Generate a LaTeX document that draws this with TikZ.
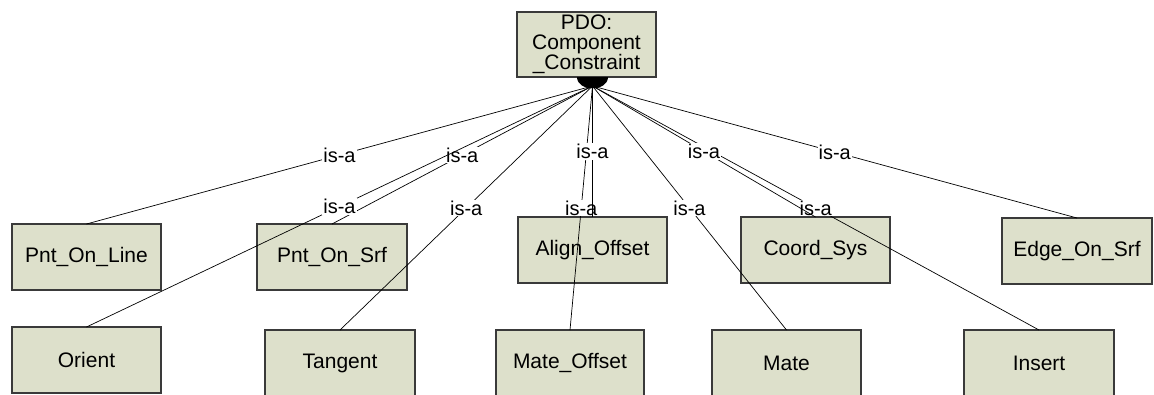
\documentclass[tikz,border=0pt]{standalone}
\usepackage{fontspec}
\setmainfont{Liberation Sans}
\definecolor{boxfill}{HTML}{DDE0CB}
\definecolor{boxline}{HTML}{3A3A3A}
\begin{document}
\begin{tikzpicture}[x=1pt,y=-1pt,
  cls/.style={draw=boxline, fill=boxfill, line width=1.2pt, minimum width=149pt,
    minimum height=66pt, inner sep=0pt, outer sep=0pt, anchor=north west,
    font=\fontsize{21}{22}\selectfont},
  link/.style={line width=0.7pt, draw=black},
  lbl/.style={fill=white, inner sep=1pt, font=\fontsize{20}{21}\selectfont}]
\clip (0,0) rectangle (1154,394);
\fill[white] (0,0) rectangle (1154,394);
% parent
\node[cls, minimum width=139pt, minimum height=65pt, align=center,
  font=\fontsize{21}{20}\selectfont] (top) at (517,12) {PDO:\\Component\\\_Constraint};
\fill (577,77) .. controls (577,92) and (608,92) .. (608,77) -- cycle;
\coordinate (src) at (592.5,86);
% first row
\node[cls] (pol) at (12,224) {Pnt\_On\_Line};
\node[cls, minimum width=150pt] (pos) at (257,224) {Pnt\_On\_Srf};
\node[cls] (ao) at (518,217) {Align\_Offset};
\node[cls] (cs) at (741,217) {Coord\_Sys};
\node[cls, minimum width=150pt] (eos) at (1002,218) {Edge\_On\_Srf};
% second row
\node[cls] (ori) at (12,327) {Orient};
\node[cls, minimum width=150pt] (tan) at (265,330) {Tangent};
\node[cls, minimum width=148pt] (mo) at (496,330) {Mate\_Offset};
\node[cls] (mate) at (712,330) {Mate};
\node[cls, minimum width=150pt] (ins) at (964,330) {Insert};
% links
\draw[link] (src) -- node[lbl]{is-a} (pol.north);
\draw[link] (src) -- node[lbl]{is-a} (pos.north);
\draw[link] (src) -- node[lbl]{is-a} (ori.north);
\draw[link] (src) -- node[lbl]{is-a} (tan.north);
\draw[link] (src) -- node[lbl]{is-a} (mo.north);
\draw[link] (src) -- node[lbl]{is-a} (ao.north);
\draw[link] (src) -- node[lbl]{is-a} (mate.north);
\draw[link] (src) -- node[lbl]{is-a} (ins.north);
\draw[link] (src) -- node[lbl]{is-a} (cs.north);
\draw[link] (src) -- node[lbl]{is-a} (eos.north);
\end{tikzpicture}
\end{document}
